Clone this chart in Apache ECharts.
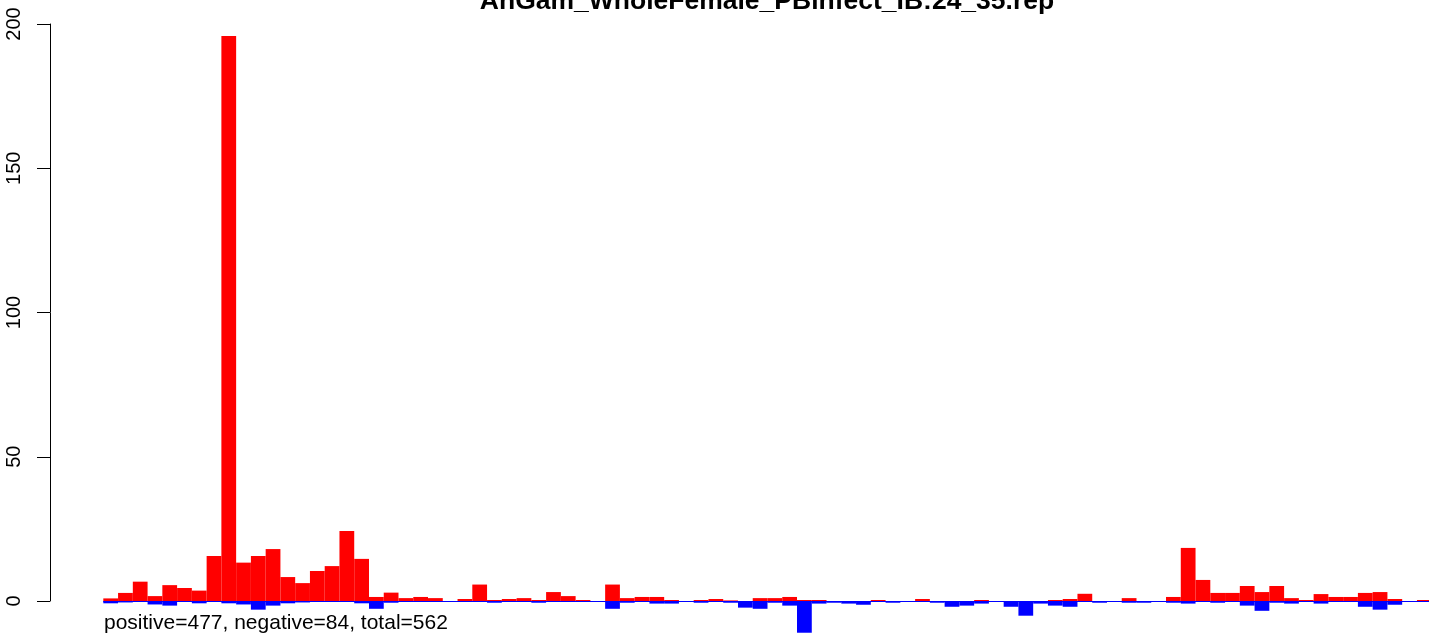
<!DOCTYPE html>
<html>
<head>
<meta charset="utf-8">
<script src="https://cdn.jsdelivr.net/npm/echarts@6/dist/echarts.min.js"></script>
<style>
  html, body { margin: 0; padding: 0; background: #ffffff; }
  #chart { width: 1429px; height: 639px; }
</style>
</head>
<body>
<div id="chart"></div>
<script>
// Read counts per bin: positive strand (red, up) and negative strand (blue, down)
const bins = Array.from({ length: 90 }, (_, i) => String(i + 1));

const positive = [
  0.9, 2.8, 6.7, 1.7, 5.5, 4.5, 3.6, 15.6, 195.8, 13.3,
  15.6, 18.0, 8.3, 6.2, 10.4, 12.1, 24.3, 14.6, 1.4, 2.9,
  1.0, 1.4, 1.0, 0, 0.7, 5.7, 0.35, 0.7, 1.0, 0.35,
  3.1, 1.7, 0.35, 0, 5.7, 1.0, 1.4, 1.4, 0.35, 0,
  0.35, 0.7, 0.2, 0, 1.0, 1.0, 1.4, 0.35, 0.35, 0,
  0, 0, 0.35, 0, 0, 0.7, 0, 0, 0, 0.35,
  0, 0, 0, 0, 0.35, 0.7, 2.5, 0, 0, 1.0,
  0, 0, 1.4, 18.4, 7.3, 2.8, 2.8, 5.2, 3.1, 5.2,
  1.0, 0.35, 2.4, 1.4, 1.4, 2.8, 3.1, 0.7, 0, 0.35
];

const negative = [
  -0.8, -0.5, 0, -1.2, -1.6, -0.3, -0.8, 0, -0.8, -1.2,
  -3.0, -1.6, -0.8, -0.5, -0.3, -0.3, -0.3, -0.8, -2.7, -0.6,
  0, 0, 0, 0, 0, 0, -0.6, 0, 0, -0.6,
  0, 0, 0, 0, -2.7, -0.6, 0, -0.9, -0.9, 0,
  -0.6, 0, -0.6, -2.3, -2.7, -0.6, -1.6, -11.0, -0.9, -0.6,
  -0.9, -1.3, 0, -0.6, 0, 0, -0.6, -2.0, -1.6, -0.9,
  0, -2.0, -5.1, -0.9, -1.6, -2.0, 0, -0.6, 0, -0.6,
  -0.6, 0, -0.6, -0.9, 0, -0.6, 0, -1.6, -3.4, -0.6,
  -0.9, 0, -0.9, 0, 0, -2.0, -3.0, -1.3, 0, 0
];

const yTicks = [0, 50, 100, 150, 200];
const titleText = 'AnGam_WholeFemale_PBinfect_IB:24_35.rep';
const footText = 'positive=477, negative=84, total=562';

const FONT = '"Liberation Sans", Arial, Helvetica, sans-serif';

// Layout: the value axis shows 0..200 on pixels 24..601; the bar grid shares
// that scale and runs down to the bottom edge of the canvas
const W = 1429, H = 639;
const axisTop = 24, zeroY = 601;
const yMax = yTicks[yTicks.length - 1];
const pxPerUnit = (zeroY - axisTop) / (yMax - yTicks[0]);
const barsHeight = H - axisTop;
const barMin = yMax - barsHeight / pxPerUnit;
const barsLeft = 103.3, barWidthPx = 14.76;
const barsWidth = bins.length * barWidthPx;

const chart = echarts.init(document.getElementById('chart'), null, { renderer: 'canvas' });

chart.setOption({
  animation: false,
  backgroundColor: '#ffffff',
  grid: [
    { left: barsLeft, width: barsWidth, top: axisTop, height: zeroY - axisTop, outerBoundsMode: 'none' },
    { left: barsLeft, width: barsWidth, top: axisTop, height: barsHeight, outerBoundsMode: 'none' }
  ],
  xAxis: [
    { gridIndex: 0, type: 'category', data: bins, show: false },
    { gridIndex: 1, type: 'category', data: bins, show: false, boundaryGap: true }
  ],
  yAxis: [
    {
      gridIndex: 0, type: 'value', min: yTicks[0], max: yMax, interval: 50,
      offset: barsLeft - 50,
      axisLine: { show: true, lineStyle: { color: '#000000', width: 1 } },
      axisTick: { show: true, length: 13, lineStyle: { color: '#000000', width: 1 } },
      axisLabel: { rotate: 90, margin: 26, color: '#000000', fontSize: 20, fontFamily: FONT },
      splitLine: { show: false }
    },
    {
      gridIndex: 1, type: 'value', min: barMin, max: yMax, show: false,
      splitLine: { show: false }
    }
  ],
  series: [
    {
      name: 'positive', type: 'bar', xAxisIndex: 1, yAxisIndex: 1,
      data: positive, barCategoryGap: 0, barGap: '-100%',
      itemStyle: { color: '#ff0000' }, silent: true
    },
    {
      name: 'negative', type: 'bar', xAxisIndex: 1, yAxisIndex: 1,
      data: negative, barCategoryGap: 0, barGap: '-100%',
      itemStyle: { color: '#0000ff' }, silent: true,
      markLine: {
        silent: true, symbol: 'none', animation: false,
        label: { show: false },
        lineStyle: { color: '#0000ff', width: 1.2, type: 'solid' },
        data: [{ yAxis: 0 }]
      }
    }
  ],
  graphic: [
    {
      type: 'text', x: 767, y: 1.2,
      style: { text: titleText, fill: '#000000', font: 'bold 26.5px ' + FONT, align: 'center', verticalAlign: 'middle' }
    },
    {
      type: 'text', x: 104, y: 623,
      style: { text: footText, fill: '#000000', font: '21px ' + FONT, align: 'left', verticalAlign: 'middle' }
    }
  ]
});
</script>
</body>
</html>
